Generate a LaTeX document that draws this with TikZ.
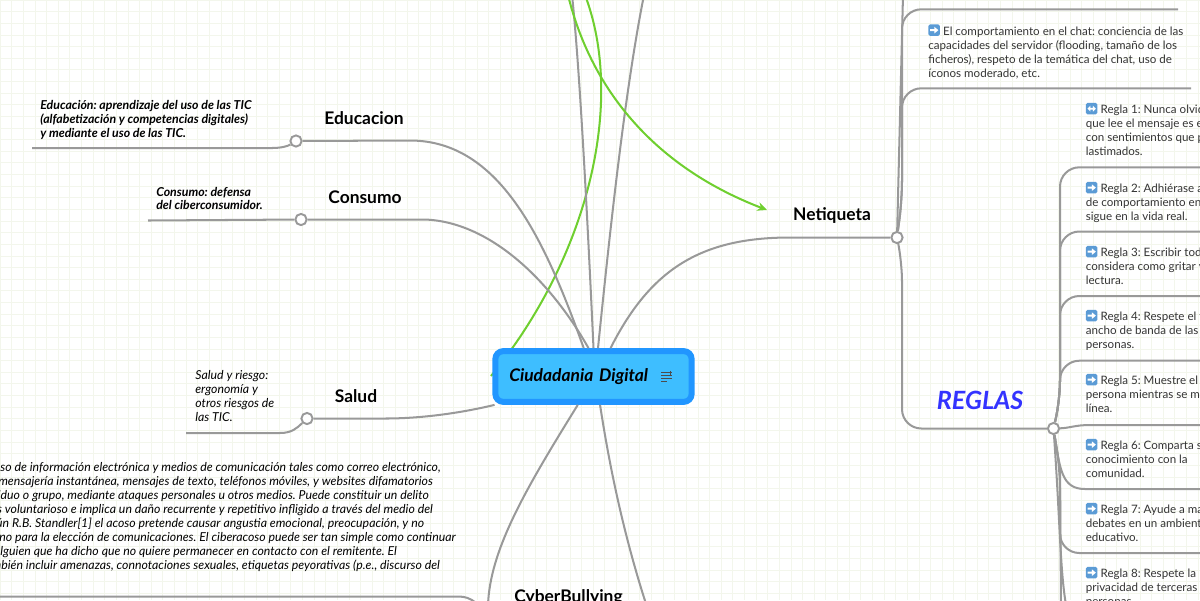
\documentclass[tikz,border=0pt]{standalone}
\usepackage{fontspec}
\usetikzlibrary{arrows.meta}
\setmainfont{Lato}
\AtBeginDocument{\frenchspacing}
\definecolor{linkgray}{HTML}{999999}
\definecolor{linkgreen}{HTML}{6FCF2F}
\definecolor{gridline}{HTML}{F3F6EC}
\definecolor{rootedge}{HTML}{2196FF}
\definecolor{rootfill}{HTML}{3EBEFF}
\definecolor{reglasblue}{HTML}{3333FF}
\definecolor{iconblue}{HTML}{5B9BD5}
\newcommand{\arrowicon}{\tikz[x=1pt,y=1pt,baseline=0.3pt]{\fill[iconblue,rounded corners=1pt] (0,0) rectangle (6.6,6.6);
\fill[white] (1,2.7) -- (3.4,2.7) -- (3.4,1.4) -- (5.7,3.3) -- (3.4,5.2) -- (3.4,3.9) -- (1,3.9) -- cycle;}\kern1.8pt}
\newcommand{\bothicon}{\tikz[x=1pt,y=1pt,baseline=0.3pt]{\fill[iconblue,rounded corners=1pt] (0,0) rectangle (6.6,6.6);
\fill[white] (0.9,3.3) -- (2.6,1.6) -- (2.6,2.8) -- (4,2.8) -- (4,1.6) -- (5.7,3.3) -- (4,5) -- (4,3.8) -- (2.6,3.8) -- (2.6,5) -- cycle;}\kern1.8pt}
\tikzset{
  link/.style={draw=linkgray,line width=1.15pt},
  branch/.style={link,rounded corners=11pt},
  greenlink/.style={draw=linkgreen,line width=1.15pt},
  joint/.style={circle,draw=linkgray,fill=white,line width=1.1pt,minimum size=6.4pt,inner sep=0pt},
  topic/.style={font=\fontsize{9.9}{11}\selectfont\bfseries,inner sep=0pt},
  rootbox/.style={draw=rootedge,fill=rootfill,line width=3.4pt,rounded corners=4.5pt,minimum height=28.9pt,
    text width=95.9pt,inner xsep=7.9pt,inner ysep=0pt,align=left,font=\fontsize{9.9}{11}\selectfont\bfseries\itshape},
  notetext/.style={anchor=north west,inner sep=0pt,align=left,font=\fontsize{7}{7.94}\selectfont\bfseries\itshape},
  plainnote/.style={notetext,font=\fontsize{7}{7.94}\selectfont\itshape},
  ruletext/.style={anchor=north west,inner sep=0pt,align=left,text=black!80,font=\fontsize{6.6}{7.94}\selectfont}
}
\begin{document}
\begin{tikzpicture}[x=0.02cm,y=-0.02cm]
\useasboundingbox (0,0) rectangle (1200,600);
\clip (0,0) rectangle (1200,600);
\draw[gridline,line width=0.4pt,step=6.62pt] (0,0) grid (1200,600);
% green links, the first one runs behind the box
\coordinate (greenTail) at (491,376);
\coordinate (greenTopA) at (585,-5);
\coordinate (greenTopB) at (568,-5);
\coordinate (greenTip) at (767,210);
\draw[greenlink] (greenTail) .. controls (590,255) and (625,100) .. (greenTopA);
\node[rootbox] (main) at (593.5,376.5) {Ciudadania Digital};
\draw[black!70,line width=0.55pt] (661,372.5) -- (668,372.5) (661,375.5) -- (671.5,375.5) (661,378.5) -- (671.5,378.5) (661,381) -- (667,381)
  (670,370.5) -- (670,374.5) (668,372.5) -- (672,372.5);
\node[joint] (eduJoint) at (296,141) {};
\node[joint] (conJoint) at (301,219.5) {};
\node[joint] (salJoint) at (307,418.5) {};
\node[joint] (netJoint) at (897,237.5) {};
\node[joint] (regJoint) at (1053.5,428.5) {};
\node[topic] (edu) at (364,118) {Educacion};
\node[topic] (con) at (365,197) {Consumo};
\node[topic] (sal) at (356,396) {Salud};
\node[topic] (net) at (832,215.5) {Netiqueta};
\node[topic] (cyb) at (568.5,598) {CyberBullying};
\node[topic,text=reglasblue,font=\fontsize{14.3}{16}\selectfont\bfseries\itshape] (reg) at (980,400) {REGLAS};
\node[notetext] (eduNote) at (40,100.5) {Educación: aprendizaje del uso de las TIC\\(alfabetización y competencias digitales)\\y mediante el uso de las TIC.};
\node[notetext] (conNote) at (156,186.5) {Consumo: defensa\\del ciberconsumidor.};
\node[plainnote] (salNote) at (195,370.5) {Salud y riesgo:\\ergonomía y\\otros riesgos de\\las TIC.};
\node[plainnote,anchor=north east,align=right] (cybNote) at (456,462.5) {uso de información electrónica y medios de comunicación tales como correo electrónico,\rule{8.5pt}{0pt}\\
mensajería instantánea, mensajes de texto, teléfonos móviles, y websites difamatorios\rule{13pt}{0pt}\\
individuo o grupo, mediante ataques personales u otros medios. Puede constituir un delito\rule{15.3pt}{0pt}\\
es voluntarioso e implica un daño recurrente y repetitivo infligido a través del medio del\rule{13pt}{0pt}\\
según R.B. Standler[1] el acoso pretende causar angustia emocional, preocupación, y no\rule{18pt}{0pt}\\
no para la elección de comunicaciones. El ciberacoso puede ser tan simple como continuar\\
alguien que ha dicho que no quiere permanecer en contacto con el remitente. El\rule{33.5pt}{0pt}\\
también incluir amenazas, connotaciones sexuales, etiquetas peyorativas (p.e., discurso del\rule{9pt}{0pt}};
\node[ruletext] (chat) at (928,24) {\arrowicon El comportamiento en el chat: conciencia de las\\capacidades del servidor (flooding, tamaño de los\\ficheros), respeto de la temática del chat, uso de\\íconos moderado, etc.};
\node[ruletext] (regla1) at (1085.5,102.5) {\bothicon Regla 1: Nunca olvide\\que lee el mensaje es en\\con sentimientos que pueden\\lastimados.};
\node[ruletext] (regla2) at (1085.5,181.5) {\arrowicon Regla 2: Adhiérase a\\de comportamiento en\\sigue en la vida real.};
\node[ruletext] (regla3) at (1085.5,245.5) {\arrowicon Regla 3: Escribir todo\\considera como gritar y\\lectura.};
\node[ruletext] (regla4) at (1085.5,309.5) {\arrowicon Regla 4: Respete el tiempo\\ancho de banda de las\\personas.};
\node[ruletext] (regla5) at (1085.5,373.5) {\arrowicon Regla 5: Muestre el lado\\persona mientras se mantiene\\línea.};
\node[ruletext] (regla6) at (1085.5,438.5) {\arrowicon Regla 6: Comparta su\\conocimiento con la\\comunidad.};
\node[ruletext] (regla7) at (1085.5,502.5) {\arrowicon Regla 7: Ayude a mantener\\debates en un ambiente\\educativo.};
\node[ruletext] (regla8) at (1085.5,566.5) {\arrowicon Regla 8: Respete la\\privacidad de terceras\\personas.};
% free ends
\coordinate (linkTopA) at (572,-5);
\coordinate (linkTopB) at (644,-5);
\coordinate (cybLeftEnd) at (488,605);
\coordinate (cybRightEnd) at (648,610);
\coordinate (eduLeft) at (32,148);
\coordinate (conLeft) at (148,220.5);
\coordinate (salLeft) at (186,433);
\coordinate (cybLineStart) at (-5,596.5);
\coordinate (cybLineEnd) at (476,603);
\coordinate (netTop) at (903,-5);
\coordinate (chatTop) at (1178,9.3);
\coordinate (chatBottom) at (1191,88.3);
\coordinate (reglaEndA) at (1205,167.3);
\coordinate (reglaEndB) at (1205,231.5);
\coordinate (reglaEndC) at (1205,296);
\coordinate (reglaEndD) at (1205,360.7);
\coordinate (reglaEndE) at (1205,425);
\coordinate (reglaEndF) at (1205,489);
\coordinate (reglaEndG) at (1205,553);
\coordinate (reglaDownA) at (1061,605);
\coordinate (reglaDownB) at (1066,605);
% root to topics
\draw[link] (eduJoint) -- (410,140.5) .. controls (500,140.5) and (545,240) .. (main.109);
\draw[link] (conJoint) -- (425,219.5) .. controls (490,222) and (550,280) .. (main.100);
\draw[link] (salJoint) -- (385,418.5) .. controls (425,418.5) and (465,412) .. (main.196);
\draw[link] (netJoint) -- (790,237.5) .. controls (700,237.5) and (650,270) .. (main.59);
\draw[link] (main.90) .. controls (588,230) and (580,70) .. (linkTopA);
\draw[link] (main.81) .. controls (610,230) and (625,90) .. (linkTopB);
\draw[link] (main.241) .. controls (525,490) and (490,550) .. (cybLeftEnd);
\draw[link] (main.283) .. controls (610,470) and (625,540) .. (cybRightEnd);
% notes on the left
\draw[link] (eduJoint) .. controls (288,146) and (282,148) .. (272,148) -- (eduLeft);
\draw[link] (conJoint) -- (conLeft);
\draw[link] (salJoint) .. controls (297,428) and (292,433) .. (280,433) -- (salLeft);
\draw[link] (cybLineStart) -- (458,596.5) .. controls (465,596.5) and (470,598) .. (cybLineEnd);
% netiqueta branches
\draw[link] (netJoint) -- (netTop);
\draw[branch] (netJoint) -- (902,200) -- (902,9.3) -- (chatTop);
\draw[branch] (netJoint) -- (902,200) -- (902,88.3) -- (chatBottom);
\draw[branch] (netJoint) -- (902,262) -- (902,428.5) -- (regJoint);
% reglas branches
\draw[branch] (regJoint) -- (1060,400) -- (1060,167.3) -- (reglaEndA);
\draw[branch] (regJoint) -- (1060,400) -- (1060,231.5) -- (reglaEndB);
\draw[branch] (regJoint) -- (1060,400) -- (1060,296) -- (reglaEndC);
\draw[branch] (regJoint) -- (1060,400) -- (1060,360.7) -- (reglaEndD);
\draw[link] (regJoint) .. controls (1070,428) and (1075,425) .. (1090,425) -- (reglaEndE);
\draw[link] (regJoint) .. controls (1060,470) and (1062,489) .. (1085,489) -- (reglaEndF);
\draw[branch] (regJoint) -- (1060,470) -- (1060,553) -- (reglaEndG);
\draw[link] (regJoint) -- (1060,470) -- (reglaDownA);
\draw[link] (regJoint) .. controls (1060,520) and (1060,570) .. (reglaDownB);
% arrow to netiqueta
\draw[greenlink,-{Stealth[length=5.5pt,width=5pt]}] (greenTopB) .. controls (590,85) and (650,165) .. (greenTip);
\end{tikzpicture}
\end{document}
